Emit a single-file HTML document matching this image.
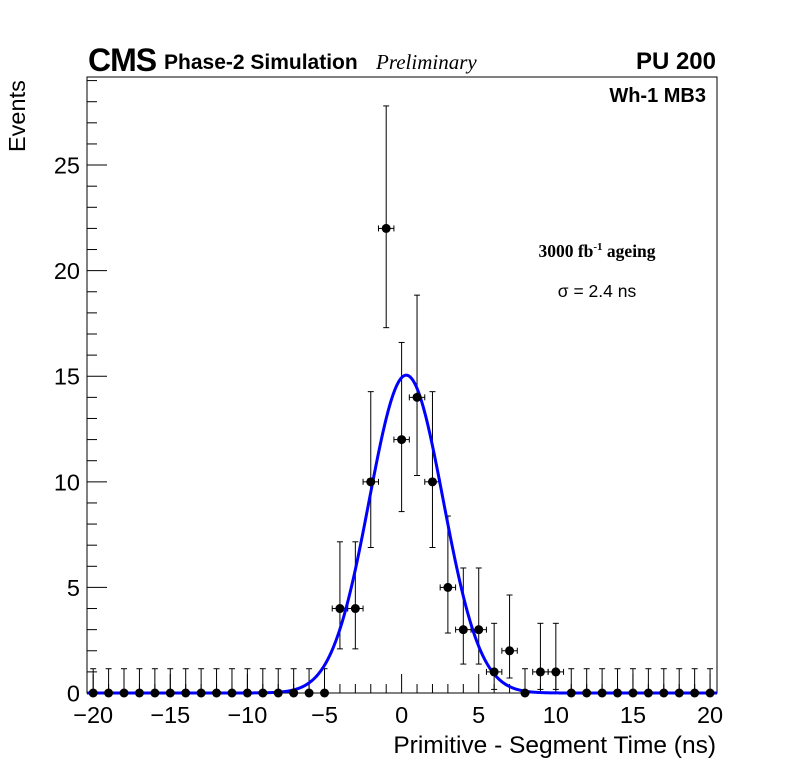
<!DOCTYPE html>
<html><head><meta charset="utf-8"><style>
body{margin:0;background:#fff;}
svg{display:block;font-family:"Liberation Sans",sans-serif;}
</style></head><body>
<svg id="c" width="796" height="772" viewBox="0 0 796 772">
<rect x="0" y="0" width="796" height="772" fill="#fff"/>
<g id="axes"></g>
<g id="marks"></g>
<text x="88" y="71" font-size="32" font-weight="bold" letter-spacing="-1">CMS</text>
<text x="164" y="69" font-size="21" font-weight="bold">Phase-2 Simulation</text>
<text x="376" y="69" font-size="21" font-style="italic" font-family="Liberation Serif, serif">Preliminary</text>
<text x="716" y="69" font-size="24" font-weight="bold" text-anchor="end">PU 200</text>
<text x="706" y="102" font-size="20" font-weight="bold" text-anchor="end">Wh-1 MB3</text>
<text x="597" y="257" font-size="17.5" font-weight="bold" text-anchor="middle" font-family="Liberation Serif, serif">3000 fb<tspan dy="-7" font-size="11">-1</tspan><tspan dy="7"> ageing</tspan></text>
<text x="597" y="297" font-size="17.5" text-anchor="middle">σ = 2.4 ns</text>
<text x="716" y="753" font-size="24.5" text-anchor="end">Primitive - Segment Time (ns)</text>
<text transform="translate(25,152) rotate(-90)" font-size="23.5">Events</text>
</svg>
<script>
const bins=[-20,-19,-18,-17,-16,-15,-14,-13,-12,-11,-10,-9,-8,-7,-6,-5,-4,-3,-2,-1,0,1,2,3,4,5,6,7,8,9,10,11,12,13,14,15,16,17,18,19,20];
const counts=[0,0,0,0,0,0,0,0,0,0,0,0,0,0,0,0,4,4,10,22,12,14,10,5,3,3,1,2,0,1,1,0,0,0,0,0,0,0,0,0,0];
const errLowByN={0:0,1:0.83,2:1.29,3:1.63,4:1.91,5:2.16,10:3.11,12:3.41,14:3.7,22:4.7};
const errHighByN={0:1.15,1:2.3,2:2.64,3:2.92,4:3.16,5:3.38,10:4.27,12:4.6,14:4.84,22:5.8};
const xTicks=[-20,-15,-10,-5,0,5,10,15,20];
const yTicks=[0,5,10,15,20,25];
const fitParams=[15.05,0.3,2.4];
const X0=87,X1=717,Y0=693,Y1=77,xmin=-20.4,xmax=20.45,ymin=0,ymax=29.17;
const xs=v=>X0+(v-xmin)/(xmax-xmin)*(X1-X0);
const ys=v=>Y0-(v-ymin)/(ymax-ymin)*(Y0-Y1);
const NS="http://www.w3.org/2000/svg";
function mk(tag,attrs,parent){const e=document.createElementNS(NS,tag);for(const k in attrs)e.setAttribute(k,attrs[k]);parent.appendChild(e);return e;}
const ax=document.getElementById('axes'),mg=document.getElementById('marks');
const frame=mk('rect',{x:X0,y:Y1,width:X1-X0,height:Y0-Y1,fill:'none',stroke:'#000','stroke-width':1},ax);


for(let v=-20;v<=20;v++){const maj=v%5===0;const t=mk('line',{x1:xs(v),x2:xs(v),y1:Y0,y2:Y0-(maj?19:9),stroke:'#000'},ax);

}
xTicks.forEach(v=>{const t=mk('text',{x:xs(v),y:723,'font-size':23.5,'text-anchor':'middle'},ax);t.textContent=(v<0?'\u2212'+(-v):''+v);

});
for(let v=0;v<=29;v++){const maj=v%5===0;const t=mk('line',{x1:X0,x2:X0+(maj?20:10),y1:ys(v),y2:ys(v),stroke:'#000'},ax);

}
yTicks.forEach(v=>{const t=mk('text',{x:80,y:ys(v)+8.5,'font-size':23.5,'text-anchor':'end'},ax);t.textContent=''+v;

});
bins.forEach((b,i)=>{const n=counts[i];const lo=n-(errLowByN[n]!==undefined?errLowByN[n]:Math.sqrt(n));const hi=n+(errHighByN[n]!==undefined?errHighByN[n]:Math.sqrt(n));
const g=mk('g',{stroke:'#000','stroke-width':1},mg);


const cx=xs(b),cy=ys(n);
mk('line',{x1:cx,x2:cx,y1:ys(hi),y2:ys(lo)},g);
mk('line',{x1:cx-3,x2:cx+3,y1:ys(hi),y2:ys(hi)},g);
if(n>0){mk('line',{x1:cx-3,x2:cx+3,y1:ys(lo),y2:ys(lo)},g);
mk('line',{x1:xs(b-0.5),x2:xs(b+0.5),y1:cy,y2:cy},g);
mk('line',{x1:xs(b-0.5),x2:xs(b-0.5),y1:cy-3,y2:cy+3},g);
mk('line',{x1:xs(b+0.5),x2:xs(b+0.5),y1:cy-3,y2:cy+3},g);}
});
let d='';for(let k=0;k<=800;k++){const x=xmin+(xmax-xmin)*k/800;const y=fitParams[0]*Math.exp(-0.5*Math.pow((x-fitParams[1])/fitParams[2],2));d+=(k?'L':'M')+xs(x).toFixed(2)+' '+ys(y).toFixed(2);}
const fit=mk('path',{d:d,fill:'none',stroke:'#0000ff','stroke-width':3},mg);


bins.forEach((b,i)=>{const c=mk('circle',{cx:xs(b),cy:ys(counts[i]),r:4.5,fill:'#000'},mg);

});
</script>
</body></html>
